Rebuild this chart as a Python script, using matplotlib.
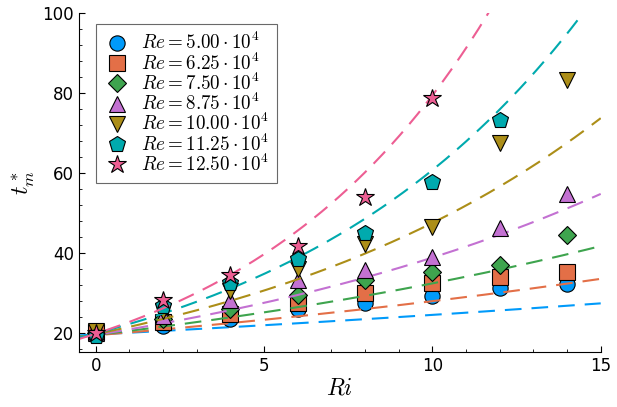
import matplotlib
matplotlib.use("Agg")
import matplotlib.pyplot as plt
from matplotlib.ticker import MultipleLocator
import numpy as np

plt.rcParams["mathtext.fontset"] = "cm"
plt.rcParams["font.family"] = "DejaVu Sans"

# Richardson numbers where t*_m was measured
ri = np.array([0, 2, 4, 6, 8, 10, 12, 14])

re_labels = ["5.00", "6.25", "7.50", "8.75", "10.00", "11.25", "12.50"]

tm_re500 = [19.8, 21.7, 23.6, 26.0, 27.6, 29.3, 31.4, 32.3]
tm_re625 = [20.3, 22.8, 24.9, 27.6, 30.1, 32.6, 34.0, 35.4]
tm_re750 = [20.0, 23.6, 26.1, 29.5, 33.2, 35.4, 37.0, 44.6]
tm_re875 = [20.1, 24.4, 28.3, 33.3, 35.7, 39.0, 46.2, 54.9]
tm_re1000 = [20.6, 25.5, 30.5, 36.0, 42.4, 46.6, 67.6, 83.4]
tm_re1125 = [19.2, 26.8, 32.6, 38.5, 45.1, 57.9, 73.4, np.nan]
tm_re1250 = [20.1, 28.3, 34.6, 41.8, 54.0, 78.8, np.nan, np.nan]

# exponential fits t = a * exp(b * Ri)
fit_a = [19.7, 19.5, 19.6, 19.6, 19.8, 19.98, 19.9]
fit_b = [0.0222, 0.0363, 0.0505, 0.0686, 0.0877, 0.1113, 0.1385]

series = [tm_re500, tm_re625, tm_re750, tm_re875, tm_re1000, tm_re1125, tm_re1250]
colors = ["#009AFA", "#E36F47", "#3EA44E", "#C371D2", "#AC8E18", "#00AAAE", "#ED5E93"]
markers = ["o", "s", "D", "^", "v", "p", "*"]
msizes = [11, 11, 9, 11.5, 11.5, 12, 13.5]

fig = plt.figure(figsize=(6.17, 4.07), dpi=100)
ax = fig.add_axes([0.128, 0.1359, 0.8456, 0.8314])

x_fit = np.linspace(-0.5, 15, 300)
for i, tm in enumerate(series):
    y_fit = fit_a[i] * np.exp(fit_b[i] * x_fit)
    ax.plot(x_fit, y_fit, color=colors[i], lw=1.5, dashes=(8, 4.8))
    ax.plot(ri, tm, linestyle="none", marker=markers[i], ms=msizes[i],
            mfc=colors[i], mec="black", mew=0.8,
            label=r"$Re = %s \cdot 10^4$" % re_labels[i])

ax.set_xlim(-0.5, 15)
ax.set_ylim(15.4, 100)
ax.xaxis.set_major_locator(MultipleLocator(5))
ax.xaxis.set_minor_locator(MultipleLocator(1))
ax.yaxis.set_major_locator(MultipleLocator(20))
ax.yaxis.set_minor_locator(MultipleLocator(4))
ax.tick_params(which="both", direction="in", labelsize=12)
ax.tick_params(which="major", length=4)
ax.tick_params(which="minor", length=2)
ax.spines["top"].set_visible(False)
ax.spines["right"].set_visible(False)

ax.set_xlabel(r"$Ri$", fontsize=17, labelpad=1)
ax.set_ylabel(r"$t_m^*$", fontsize=17, labelpad=4)

leg = ax.legend(loc="upper left", bbox_to_anchor=(0.0326, 0.968), fontsize=13.7,
                frameon=True, fancybox=False, edgecolor="#444444",
                borderpad=0.42, labelspacing=-0.04, handletextpad=0.6,
                handlelength=1.35, borderaxespad=0)
leg.get_frame().set_linewidth(0.8)

fig.savefig("out.png", dpi=100)
